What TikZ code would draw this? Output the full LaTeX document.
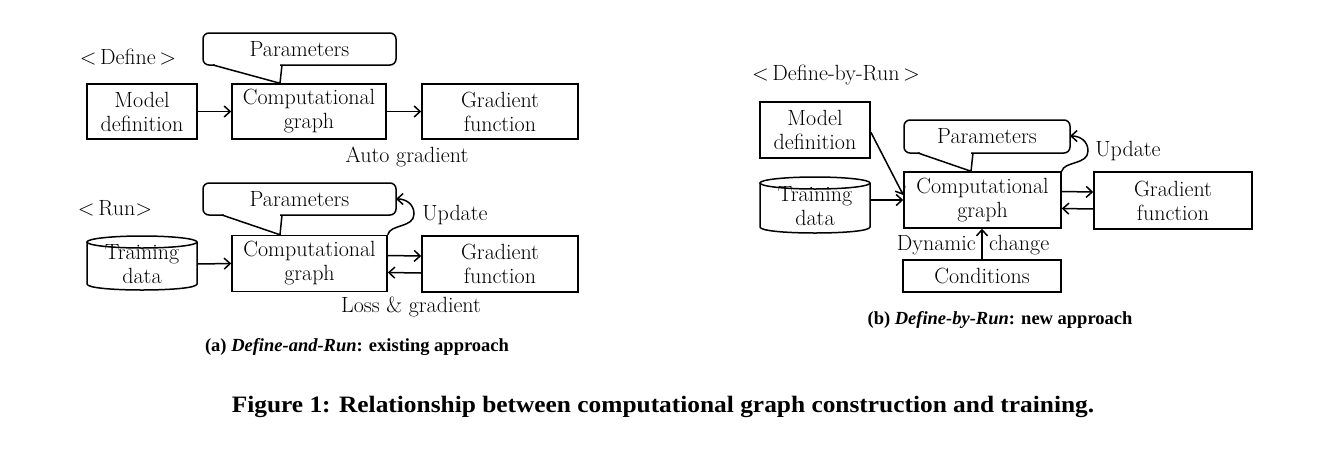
\documentclass[tikz,border=0pt]{standalone}
\usepackage{fontspec}
\newfontfamily\capfont{Liberation Serif}
\usetikzlibrary{arrows.meta,calc}
\tikzset{
  base/.style={font=\fontsize{22}{24}\selectfont, align=center},
  box/.style={base, draw, line width=1.5pt, inner sep=0pt},
  callbox/.style={box, rounded corners=6pt, fill=white, outer sep=0pt},
  txt/.style={base, inner sep=0pt},
  cylnode/.style={base, inner sep=0pt, minimum width=110pt, minimum height=54pt},
  conn/.style={line width=1.5pt, -{Straight Barb[length=6pt,width=11pt,line width=1.5pt]}},
  tail/.style={line width=1.5pt, line join=miter},
  subcap/.style={inner sep=0pt, font=\capfont\bfseries\fontsize{18.5}{21}\selectfont},
  maincap/.style={inner sep=0pt, font=\capfont\bfseries\fontsize{23.5}{26}\selectfont},
}
\newcommand\mycyl[4]{% cx, cy, w, h  (y down)
  \draw[line width=1.5pt] (#1,{#2-#4/2+6}) ellipse [x radius=#3/2, y radius=6];
  \draw[line width=1.5pt] ({#1-#3/2},{#2-#4/2+6}) -- ({#1-#3/2},{#2+#4/2-6})
     .. controls ({#1-#3/2},{#2+#4/2+2}) and ({#1+#3/2},{#2+#4/2+2}) .. ({#1+#3/2},{#2+#4/2-6})
     -- ({#1+#3/2},{#2-#4/2+6});
}
\begin{document}
\begin{tikzpicture}[x=1pt,y=-1pt]
\useasboundingbox (0,0) rectangle (1330,448);

% ---------- (a) Define ----------
\node[txt] (deflabel) at (128,57) {<\,Define\,>};
\node[box, minimum width=110pt, minimum height=55pt] (modelA) at (142,111.5) {Model\\definition};
\node[box, minimum width=154pt, minimum height=55pt] (compA1) at (309,111.5) {Computational\\graph};
\node[box, minimum width=156pt, minimum height=55pt] (gradA1) at (500,111.5) {Gradient\\function};
\node[callbox, minimum width=193pt, minimum height=32pt] (parA1) at (299.5,49) {Parameters};
\draw[white, line width=3pt] (215,0 |- parA1.south) -- (280,0 |- parA1.south);
\draw[tail] (213,0 |- parA1.south) -- (280,0 |- compA1.north) -- (282,0 |- parA1.south);
\draw[conn] (modelA.east) -- (compA1.west);
\draw[conn] (compA1.east) -- (gradA1.west);
\node[txt] (autograd) at (407,157) {Auto gradient};

% ---------- (a) Run ----------
\node[txt] (runlabel) at (115,208) {<\,Run>};
\mycyl{142}{263}{110}{54}
\node[cylnode] (cylA) at (142,264) {Training\\data};
\node[box, minimum width=155pt, minimum height=56pt] (compA2) at (309.5,263.5) {Computational\\graph};
\node[box, minimum width=156pt, minimum height=56pt] (gradA2) at (500,264) {Gradient\\function};
\node[callbox, minimum width=193pt, minimum height=32pt] (parA2) at (299.5,199) {Parameters};
\draw[white, line width=3pt] (224,0 |- parA2.south) -- (280,0 |- parA2.south);
\draw[tail] (222,0 |- parA2.south) -- (280,0 |- compA2.north) -- (282,0 |- parA2.south);
\draw[conn] (cylA.east) -- (compA2.west);
\draw[conn] ([yshift=8pt]compA2.east) -- ([yshift=8pt]gradA2.west);
\draw[conn] ([yshift=-9pt]gradA2.west) -- ([yshift=-9pt]compA2.east);
\draw[conn] (compA2.north east) .. controls (390,224) and (414,228) .. (414,214)
   .. controls (414,204) and (406,199) .. (parA2.east |- 0,199);
\node[txt] (updA) at (455,215) {Update};
\node[txt] (lossA) at (411,307) {Loss \& gradient};

% ---------- (b) Define-by-Run ----------
\node[txt] (dbrlabel) at (836,75) {<\,Define-by-Run\,>};
\node[box, minimum width=110pt, minimum height=56pt] (modelB) at (815,130) {Model\\definition};
\mycyl{815}{205}{110}{56}
\node[cylnode] (cylB) at (815,206) {Training\\data};
\node[box, minimum width=157pt, minimum height=56pt] (compB) at (982.5,200) {Computational\\graph};
\node[box, minimum width=158pt, minimum height=57pt] (gradB) at (1173,200.5) {Gradient\\function};
\node[box, minimum width=158pt, minimum height=32pt] (condB) at (982,276) {Conditions};
\node[callbox, minimum width=166pt, minimum height=33pt] (parB) at (987,136.5) {Parameters};
\draw[white, line width=3pt] (920,0 |- parB.south) -- (971,0 |- parB.south);
\draw[tail] (918,0 |- parB.south) -- (971,0 |- compB.north) -- (973,0 |- parB.south);
\draw[conn] ([yshift=-2pt]modelB.east) -- ([yshift=5pt]compB.west);
\draw[conn] (cylB.east |- compB.west) -- (compB.west);
\draw[conn] ([yshift=8.5pt]compB.east) -- ([yshift=8.5pt]gradB.west);
\draw[conn] ([yshift=-8.5pt]gradB.west) -- ([yshift=-8.5pt]compB.east);
\draw[conn] (condB.north) -- (condB.north |- compB.south);
\draw[conn] (compB.north east) .. controls (1064,161) and (1088,165) .. (1088,151)
   .. controls (1088,141) and (1080,136) .. (parB.east |- 0,136);
\node[txt] (updB) at (1128,151) {Update};
\node[txt, anchor=east] (dyn) at (976,245) {Dynamic};
\node[txt, anchor=west] (chg) at (989,245) {change};

% ---------- captions ----------
\node[subcap] (capa) at (357,347) {(a) \textit{Define-and-Run}: existing approach};
\node[subcap] (capb) at (1000,320) {(b) \textit{Define-by-Run}: new approach};
\node[maincap] (capmain) at (663,407) {\scalebox{1.08}[1]{Figure 1: Relationship between computational graph construction and training.}};
\end{tikzpicture}
\end{document}
